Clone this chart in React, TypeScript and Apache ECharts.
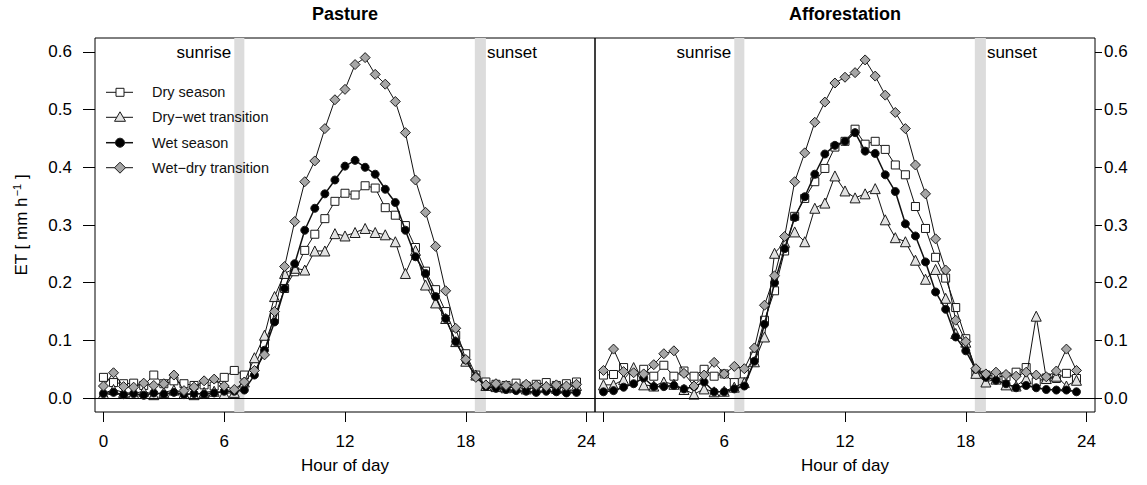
import React, { useEffect, useRef } from 'react';
import * as echarts from 'echarts';

const HOURS = [
  0, 0.5, 1, 1.5, 2, 2.5, 3, 3.5, 4, 4.5, 5, 5.5,
  6, 6.5, 7, 7.5, 8, 8.5, 9, 9.5, 10, 10.5, 11, 11.5,
  12, 12.5, 13, 13.5, 14, 14.5, 15, 15.5, 16, 16.5, 17, 17.5,
  18, 18.5, 19, 19.5, 20, 20.5, 21, 21.5, 22, 22.5, 23, 23.5,
];

// Pasture
const PASTURE_DRY = [
  0.036, 0.027, 0.025, 0.026, 0.022, 0.040, 0.025, 0.030, 0.025, 0.022, 0.023, 0.021,
  0.036, 0.048, 0.040, 0.055, 0.094, 0.140, 0.190, 0.219, 0.256, 0.284, 0.311, 0.341,
  0.355, 0.352, 0.368, 0.364, 0.330, 0.317, 0.299, 0.261, 0.220, 0.188, 0.150, 0.109,
  0.077, 0.040, 0.028, 0.024, 0.022, 0.026, 0.021, 0.024, 0.027, 0.022, 0.025, 0.028,
];
const PASTURE_DRYWET = [
  0.008, 0.015, 0.010, 0.008, 0.012, 0.006, 0.010, 0.014, 0.008, 0.006, 0.010, 0.012,
  0.008, 0.010, 0.028, 0.070, 0.109, 0.176, 0.216, 0.225, 0.222, 0.255, 0.255, 0.285,
  0.281, 0.287, 0.294, 0.287, 0.283, 0.271, 0.216, 0.256, 0.196, 0.165, 0.138, 0.098,
  0.064, 0.040, 0.022, 0.020, 0.018, 0.019, 0.016, 0.018, 0.020, 0.017, 0.019, 0.022,
];
const PASTURE_WET = [
  0.008, 0.010, 0.006, 0.008, 0.005, 0.009, 0.007, 0.010, 0.006, 0.008, 0.007, 0.009,
  0.012, 0.012, 0.014, 0.040, 0.083, 0.132, 0.190, 0.233, 0.291, 0.329, 0.354, 0.378,
  0.402, 0.412, 0.400, 0.388, 0.362, 0.339, 0.291, 0.245, 0.216, 0.176, 0.138, 0.098,
  0.066, 0.037, 0.020, 0.017, 0.015, 0.013, 0.012, 0.010, 0.012, 0.011, 0.009, 0.010,
];
const PASTURE_WETDRY = [
  0.021, 0.044, 0.020, 0.019, 0.026, 0.022, 0.025, 0.040, 0.013, 0.019, 0.030, 0.033,
  0.021, 0.015, 0.028, 0.048, 0.075, 0.150, 0.228, 0.306, 0.375, 0.411, 0.467, 0.517,
  0.535, 0.578, 0.590, 0.561, 0.544, 0.514, 0.460, 0.378, 0.322, 0.263, 0.186, 0.121,
  0.067, 0.036, 0.023, 0.025, 0.022, 0.020, 0.024, 0.022, 0.020, 0.023, 0.021, 0.024,
];

// Afforestation
const AFF_DRY = [
  0.040, 0.041, 0.053, 0.034, 0.050, 0.038, 0.057, 0.038, 0.047, 0.038, 0.050, 0.038,
  0.042, 0.027, 0.042, 0.073, 0.135, 0.186, 0.255, 0.315, 0.346, 0.375, 0.398, 0.435,
  0.445, 0.466, 0.440, 0.445, 0.431, 0.404, 0.387, 0.332, 0.294, 0.244, 0.208, 0.157,
  0.103, 0.045, 0.040, 0.038, 0.037, 0.045, 0.053, 0.028, 0.035, 0.034, 0.043, 0.034,
];
const AFF_DRYWET = [
  0.023, 0.023, 0.032, 0.053, 0.023, 0.021, 0.028, 0.024, 0.015, 0.007, 0.016, 0.011,
  0.012, 0.019, 0.027, 0.063, 0.106, 0.251, 0.270, 0.288, 0.271, 0.329, 0.338, 0.385,
  0.359, 0.347, 0.354, 0.363, 0.309, 0.278, 0.271, 0.239, 0.206, 0.223, 0.173, 0.112,
  0.097, 0.043, 0.028, 0.033, 0.023, 0.021, 0.034, 0.142, 0.034, 0.038, 0.021, 0.031,
];
const AFF_WET = [
  0.011, 0.013, 0.019, 0.025, 0.035, 0.020, 0.020, 0.022, 0.016, 0.020, 0.028, 0.011,
  0.011, 0.016, 0.021, 0.064, 0.128, 0.200, 0.259, 0.313, 0.349, 0.388, 0.423, 0.438,
  0.445, 0.460, 0.428, 0.424, 0.387, 0.358, 0.302, 0.281, 0.236, 0.184, 0.154, 0.106,
  0.082, 0.050, 0.036, 0.031, 0.025, 0.018, 0.022, 0.018, 0.015, 0.014, 0.014, 0.011,
];
const AFF_WETDRY = [
  0.048, 0.085, 0.046, 0.044, 0.042, 0.058, 0.077, 0.082, 0.043, 0.021, 0.040, 0.062,
  0.042, 0.055, 0.051, 0.087, 0.161, 0.212, 0.280, 0.375, 0.425, 0.478, 0.513, 0.546,
  0.556, 0.564, 0.586, 0.558, 0.525, 0.495, 0.467, 0.404, 0.354, 0.276, 0.222, 0.135,
  0.098, 0.051, 0.042, 0.045, 0.041, 0.038, 0.045, 0.040, 0.037, 0.047, 0.085, 0.048,
];

const SERIES_NAMES = ['Dry season', 'Dry\u2212wet transition', 'Wet season', 'Wet\u2212dry transition'];
const PANEL_TITLES = ['Pasture', 'Afforestation'];
const Y_TICKS = [0, 0.1, 0.2, 0.3, 0.4, 0.5, 0.6];
const X_TICKS = [0, 6, 12, 18, 24];
const X_LABELS_LEFT = [0, 6, 12, 18, 24];
const X_LABELS_RIGHT = [6, 12, 18, 24];
const SUNRISE_BAND = [6.5, 7.0];
const SUNSET_BAND = [18.45, 19.0];

const FONT = '"Liberation Sans", Arial, Helvetica, sans-serif';
const STYLES = [
  { symbol: 'rect', size: 8, fill: '#ffffff', lw: 1 },
  { symbol: 'triangle', size: 10, fill: '#e2e2e2', lw: 1 },
  { symbol: 'circle', size: 8, fill: '#000000', lw: 1.5 },
  { symbol: 'diamond', size: 10, fill: '#a6a6a6', lw: 1 },
];

function pairs(vals: number[]) {
  return HOURS.map((h, i) => [h, vals[i]]);
}

export default function App() {
  const ref = useRef<HTMLDivElement>(null);
  useEffect(() => {
    if (!ref.current) return;
    const chart = echarts.init(ref.current, null, { renderer: 'svg' });
    const panels = [
      [PASTURE_DRY, PASTURE_DRYWET, PASTURE_WET, PASTURE_WETDRY],
      [AFF_DRY, AFF_DRYWET, AFF_WET, AFF_WETDRY],
    ];
    const series: any[] = [];
    panels.forEach((panel, pi) => {
      series.push({
        type: 'line',
        xAxisIndex: pi,
        yAxisIndex: pi,
        data: [],
        z: 1,
        silent: true,
        markArea: {
          silent: true,
          itemStyle: { color: '#dcdcdc' },
          data: [
            [
              {
                xAxis: SUNRISE_BAND[0],
                label: {
                  show: true, position: 'left', distance: 3, offset: [0, -173],
                  formatter: 'sunrise', color: '#000', fontSize: 17, fontFamily: FONT,
                },
              },
              { xAxis: SUNRISE_BAND[1] },
            ],
            [
              {
                xAxis: SUNSET_BAND[0],
                label: {
                  show: true, position: 'right', distance: 1, offset: [0, -173],
                  formatter: 'sunset', color: '#000', fontSize: 17, fontFamily: FONT,
                },
              },
              { xAxis: SUNSET_BAND[1] },
            ],
          ],
        },
        markLine: {
          silent: true,
          symbol: ['none', 'none'],
          label: { show: false },
          lineStyle: { color: '#000', width: 1, type: 'solid' },
          data: [{ yAxis: 0 }],
        },
      });
      panel.forEach((vals, si) => {
        const st = STYLES[si];
        series.push({
          type: 'line',
          name: SERIES_NAMES[si],
          xAxisIndex: pi,
          yAxisIndex: pi,
          data: pairs(vals),
          z: 3 + si,
          symbol: st.symbol,
          symbolSize: st.size,
          showAllSymbol: true,
          lineStyle: { color: '#111', width: st.lw },
          itemStyle: { color: st.fill, borderColor: '#1a1a1a', borderWidth: 1 },
        });
      });
    });

    const xAxisCommon = (idx: number) => ({
      type: 'value',
      gridIndex: idx,
      min: -0.42,
      max: 24.42,
      position: 'bottom',
      axisLine: { show: false, onZero: false },
      splitLine: { show: false },
      axisTick: { show: true, length: 10, customValues: X_TICKS, lineStyle: { color: '#000', width: 1 } },
      axisLabel: {
        show: true, margin: 21, color: '#000', fontSize: 17, fontFamily: FONT,
        customValues: idx === 0 ? X_LABELS_LEFT : X_LABELS_RIGHT,
        formatter: (v: number) => String(v),
      },
      name: 'Hour of day',
      nameLocation: 'middle',
      nameGap: 45,
      nameTextStyle: { color: '#000', fontSize: 17, fontFamily: FONT },
    });

    const legendGraphics: any[] = [];
    const rowsY = [92.3, 117.3, 142.7, 167.7];
    const lx = 120;
    rowsY.forEach((y, i) => {
      const st = STYLES[i];
      legendGraphics.push({
        type: 'line', z: 100, shape: { x1: 106, y1: y, x2: 133, y2: y },
        style: { stroke: '#111', lineWidth: st.lw },
      });
      if (i === 0) {
        legendGraphics.push({ type: 'rect', z: 101, shape: { x: lx - 4, y: y - 4, width: 8, height: 8 }, style: { fill: st.fill, stroke: '#1a1a1a', lineWidth: 1 } });
      } else if (i === 1) {
        legendGraphics.push({ type: 'polygon', z: 101, shape: { points: [[lx, y - 5.5], [lx + 5.5, y + 4], [lx - 5.5, y + 4]] }, style: { fill: st.fill, stroke: '#1a1a1a', lineWidth: 1 } });
      } else if (i === 2) {
        legendGraphics.push({ type: 'circle', z: 101, shape: { cx: lx, cy: y, r: 4.5 }, style: { fill: st.fill, stroke: '#1a1a1a', lineWidth: 1 } });
      } else {
        legendGraphics.push({ type: 'polygon', z: 101, shape: { points: [[lx, y - 5.5], [lx + 5.5, y], [lx, y + 5.5], [lx - 5.5, y]] }, style: { fill: st.fill, stroke: '#1a1a1a', lineWidth: 1 } });
      }
      legendGraphics.push({
        type: 'text', z: 102, x: 152, y,
        style: { text: SERIES_NAMES[i], fill: '#111', font: `14.5px ${FONT}`, align: 'left', verticalAlign: 'middle' },
      });
    });

    const option: any = {
      animation: false,
      backgroundColor: '#ffffff',
      textStyle: { fontFamily: FONT },
      grid: [
        { left: 95, top: 38, width: 500, height: 374, show: true, borderColor: '#000', borderWidth: 1, backgroundColor: 'transparent' },
        { left: 595, top: 38, width: 500, height: 374, show: true, borderColor: '#000', borderWidth: 1, backgroundColor: 'transparent' },
      ],
      xAxis: [xAxisCommon(0), xAxisCommon(1)],
      yAxis: [
        {
          type: 'value', gridIndex: 0, min: -0.024, max: 0.624, position: 'left',
          axisLine: { show: false, onZero: false }, splitLine: { show: false },
          axisTick: { show: true, length: 12, customValues: Y_TICKS, lineStyle: { color: '#000', width: 1 } },
          axisLabel: {
            show: true, margin: 23, color: '#000', fontSize: 17, fontFamily: FONT,
            customValues: Y_TICKS, formatter: (v: number) => v.toFixed(1),
          },
          name: '{a|ET [ mm h}{b|\u22121}{a| ]}',
          nameLocation: 'middle',
          nameGap: 64,
          nameRotate: 90,
          nameTextStyle: {
            color: '#000', fontSize: 17, fontFamily: FONT,
            rich: {
              a: { fontSize: 17, fontFamily: FONT, color: '#000', lineHeight: 20 },
              b: { fontSize: 11, fontFamily: FONT, color: '#000', lineHeight: 20, verticalAlign: 'top', padding: [0, 0, 0, 1] },
            },
          },
        },
        {
          type: 'value', gridIndex: 1, min: -0.024, max: 0.624, position: 'right',
          axisLine: { show: false, onZero: false }, splitLine: { show: false },
          axisTick: { show: true, length: 7, customValues: Y_TICKS, lineStyle: { color: '#000', width: 1 } },
          axisLabel: {
            show: true, margin: 9, color: '#000', fontSize: 17, fontFamily: FONT,
            customValues: Y_TICKS, formatter: (v: number) => v.toFixed(1),
          },
        },
      ],
      graphic: [
        {
          type: 'text', x: 345, y: 14,
          style: { text: PANEL_TITLES[0], fill: '#000', font: `bold 18px ${FONT}`, align: 'center', verticalAlign: 'middle' },
        },
        {
          type: 'text', x: 845, y: 14,
          style: { text: PANEL_TITLES[1], fill: '#000', font: `bold 18px ${FONT}`, align: 'center', verticalAlign: 'middle' },
        },
        ...legendGraphics,
      ],
      series,
    };
    chart.setOption(option);
    return () => chart.dispose();
  }, []);
  return (
    <div
      ref={ref}
      style={{ position: 'absolute', left: 0, top: 0, width: 1147, height: 485, background: '#fff' }}
    />
  );
}
